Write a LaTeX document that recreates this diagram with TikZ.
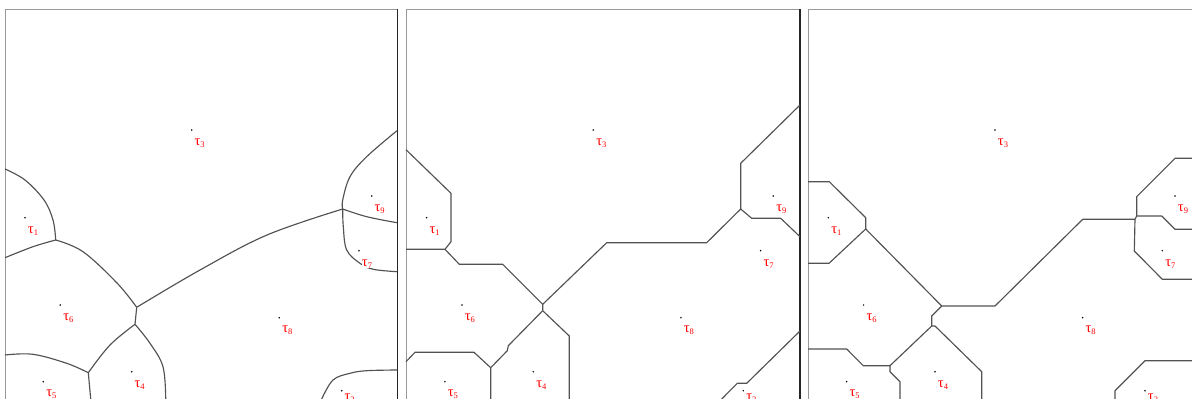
\documentclass[tikz,border=0pt]{standalone}
\usepackage{fontspec}
\newfontfamily\labfont{Liberation Serif}
\newcommand{\tlab}[1]{τ\raisebox{-0.3ex}{\fontsize{8.5}{8.5}\selectfont #1}}
\begin{document}
\begin{tikzpicture}[x=1pt,y=-1pt,
  frameg/.style={draw=black!40,line width=0.8pt},
  framer/.style={draw=black!85,line width=1.4pt},
  vline/.style={draw=black!68,line width=1.15pt,line join=round},
  site/.style={circle,fill=black,inner sep=0pt,minimum size=1.7pt},
  lab/.style={text=red,fill=white,inner sep=0.3pt,font=\labfont\fontsize{14.5}{14.5}\selectfont}]
\useasboundingbox (0,0) rectangle (1192,399);
\clip (0,0) rectangle (1192,399);
% frames
\draw[frameg] (5,405) |- (397.5,9);
\draw[framer] (397.5,9) -- (397.5,405);
\draw[frameg] (406.3,405) |- (800,9);
\draw[framer] (800,9) -- (800,405);
\draw[frameg] (808,405) |- (1200,9);
% ---------- panel 1 (curved) ----------
\draw[vline] plot[smooth,tension=0.6] coordinates {(5,169) (25,180) (44,200) (53,220) (55.7,240)};
\draw[vline] plot[smooth,tension=0.6] coordinates {(55.7,240) (33,246.7) (5,257.7)};
\draw[vline] plot[smooth,tension=0.6] coordinates {(55.7,240) (83,251.7) (117,283) (136.7,307.3)};
\draw[vline] plot[smooth,tension=0.6] coordinates {(136.7,307.3) (200,270) (267,235) (342.7,209)};
\draw[vline] (136.7,307.3) -- (135,324.3);
\draw[vline] plot[smooth,tension=0.6] coordinates {(135,324.3) (110,345) (88.3,372.7)};
\draw[vline] plot[smooth,tension=0.6] coordinates {(135,324.3) (150,343.3) (163,366.7) (165.7,399)};
\draw[vline] plot[smooth,tension=0.6] coordinates {(88.3,372.7) (66.7,363.3) (33,354.3) (5,355)};
\draw[vline] (88.3,372.7) -- (90.7,399);
\draw[vline] plot[smooth,tension=0.6] coordinates {(397,130.7) (366.7,156.7) (350,176.7) (342.7,200) (342.7,209)};
\draw[vline] plot[smooth,tension=0.6] coordinates {(342.7,209) (366.7,216.7) (397,222.7)};
\draw[vline] plot[smooth,tension=0.6] coordinates {(342.7,209) (343.3,226.7) (346.7,250) (360,263.3) (373.3,269.3) (397,271.7)};
\draw[vline] plot[smooth,tension=0.6] coordinates {(321.7,399) (333,380) (350,373.3) (366.7,370.7) (397,370)};
% ---------- panel 2 (L1-like) ----------
\draw[vline] (406,149.7) -- (451,193.3) -- (451,241.7) -- (445,249.3) -- (406,249.3);
\draw[vline] (445,249.3) -- (459.3,264.3) -- (502.7,264.3) -- (542.7,304.3) -- (542.7,310.7);
\draw[vline] (542.7,304.3) -- (606.7,242.7) -- (706.7,242.7) -- (740.7,209) -- (740.7,163.3) -- (800,105);
\draw[vline] (740.7,209) -- (751.7,218.3) -- (780.7,218.3) -- (800,236.7);
\draw[vline] (542.7,310.7) -- (508.3,345.7) -- (507.3,350.7) -- (490.7,367.7) -- (490.7,399);
\draw[vline] (542.7,310.7) -- (569.3,336) -- (569.3,399);
\draw[vline] (490.7,367.7) -- (474,352.3) -- (415,352.3) -- (406,361.7);
\draw[vline] (800,331) -- (746.7,383.3) -- (737.3,383.3) -- (721.7,399);
% ---------- panel 3 (Linf-like) ----------
\draw[vline] (808,181.7) -- (829.3,181.7) -- (865.7,217.7) -- (865.7,229);
\draw[vline] (865.7,229) -- (829,263.3) -- (808,263.3);
\draw[vline] (865.7,229) -- (941.7,306) -- (995,306) -- (1082.7,219.3) -- (1135,219.3);
\draw[vline] (1192,158.3) -- (1175,158.3) -- (1136.7,196.7) -- (1136.7,216) -- (1135,219.3);
\draw[vline] (1136.7,216) -- (1161.7,216) -- (1175,229.3) -- (1192,229.3);
\draw[vline] (1135,219.3) -- (1134.3,251) -- (1162.3,279.3) -- (1192,279.3);
\draw[vline] (941.7,306) -- (931.7,316) -- (931.7,326) -- (935,326) -- (981.7,371.7) -- (981.7,399);
\draw[vline] (931.7,326) -- (890,365.7) -- (863.3,365.7) -- (846.7,349) -- (808,349);
\draw[vline] (890,365.7) -- (890,371.7) -- (900,381.7) -- (900,399);
\draw[vline] (1192,360.7) -- (1145,360.7) -- (1115,390.7) -- (1115,399);
% ---------- sites ----------
\foreach \p/\dx in {a/0,b/401.6,c/803.3}{
  \foreach \i/\sx/\sy/\oy in {1/25/217.7/13,2/341.7/390.7/7,3/191.7/130/13,4/131.7/371.7/13,5/43.3/381.7/13,6/60.3/305/13,7/359/250.7/13,8/279.3/317.7/13,9/371.7/196/13}{
    \node[site] (s\p\i) at (\sx+\dx,\sy) {};
    \node[lab] (l\p\i) at (\sx+\dx+8,\sy+\oy) {\tlab{\i}};
  }
}
\end{tikzpicture}
\end{document}
